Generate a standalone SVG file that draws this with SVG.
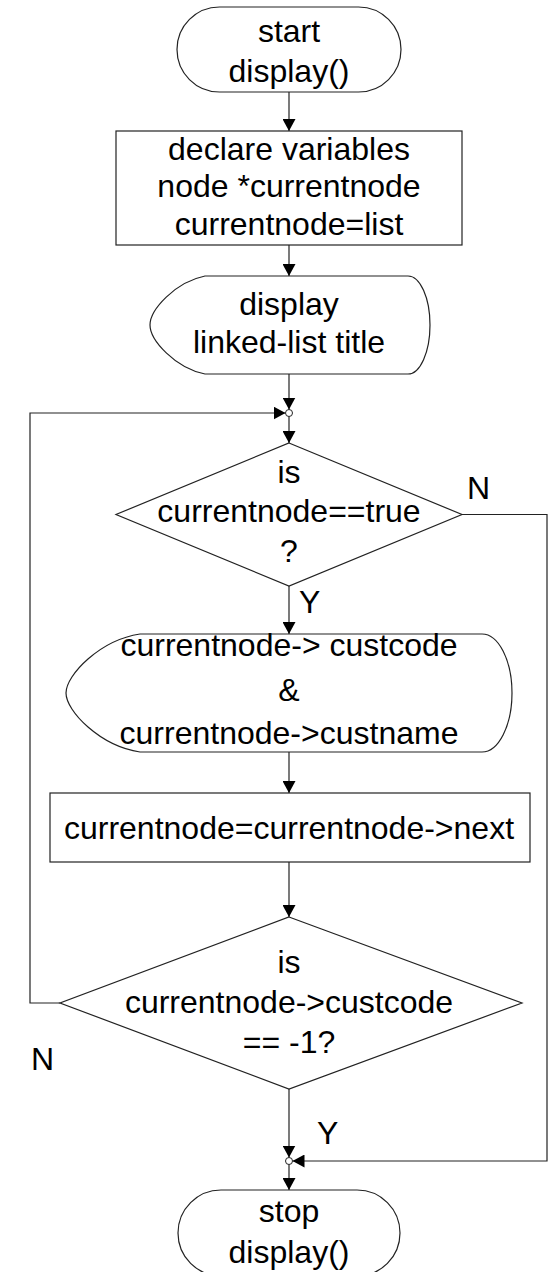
<svg xmlns="http://www.w3.org/2000/svg" width="551" height="1272" viewBox="0 0 551 1272">
<style>
.s{fill:#fff;stroke:#222;stroke-width:1.2}
.c{fill:none;stroke:#222;stroke-width:1.2}
.t{font-family:"Liberation Sans",Arial,sans-serif;font-size:32px;fill:#000;text-anchor:middle}
.l{font-family:"Liberation Sans",Arial,sans-serif;font-size:32px;fill:#000}
.j{fill:#fff;stroke:#222;stroke-width:1}
</style>
<defs>
<marker id="ah" markerUnits="userSpaceOnUse" markerWidth="13" markerHeight="13" refX="12" refY="6.5" orient="auto">
<path d="M0,0 L12,6.5 L0,13 Z" fill="#000"/>
</marker>
</defs>
<rect width="551" height="1272" fill="#fff"/>
<g id="connectors">
<path class="c" d="M289,92 V131" marker-end="url(#ah)"/>
<path class="c" d="M289,245 V276" marker-end="url(#ah)"/>
<path class="c" d="M289,374 V409.5" marker-end="url(#ah)"/>
<path class="c" d="M289,416.5 V443" marker-end="url(#ah)"/>
<path class="c" d="M60,1003 H30 V413 H285.5" marker-end="url(#ah)"/>
<path class="c" d="M462,514.5 H547 V1161 H292.5" marker-end="url(#ah)"/>
<path class="c" d="M289,586 V634" marker-end="url(#ah)"/>
<path class="c" d="M289,752 V793" marker-end="url(#ah)"/>
<path class="c" d="M289,862 V917" marker-end="url(#ah)"/>
<path class="c" d="M289,1089 V1157.5" marker-end="url(#ah)"/>
<path class="c" d="M289,1164.5 V1190" marker-end="url(#ah)"/>
<circle class="j" cx="289" cy="413" r="3.5"/>
<circle class="j" cx="289" cy="1161" r="3.5"/>
<text class="l" x="467" y="499">N</text>
<text class="l" x="299" y="613">Y</text>
<text class="l" x="31" y="1070">N</text>
<text class="l" x="317" y="1144">Y</text>
</g>
<g id="start">
<rect class="s" x="177" y="7" width="224" height="85" rx="42.5"/>
<text class="t" x="289" y="42">start</text>
<text class="t" x="289" y="82">display()</text>
</g>
<g id="declare">
<rect class="s" x="116" y="131" width="346" height="114"/>
<text class="t" x="289" y="160">declare variables</text>
<text class="t" x="289" y="197">node *currentnode</text>
<text class="t" x="289" y="235">currentnode=list</text>
</g>
<g id="display-title">
<path class="s" d="M205,276 H408 A22,49 0 0 1 408,374 H205 C175,368 150,340 150,325 C150,310 175,282 205,276 Z"/>
<text class="t" x="289" y="315">display</text>
<text class="t" x="289" y="353">linked-list title</text>
</g>
<g id="decision1">
<path class="s" d="M289,443 L462,514.5 L289,586 L116,514.5 Z"/>
<text class="t" x="289" y="483">is</text>
<text class="t" x="289" y="522">currentnode==true</text>
<text class="t" x="289" y="562">?</text>
</g>
<g id="display-node">
<path class="s" d="M140,634 H482 A30,59 0 0 1 482,752 H140 C100,746 66,711 66,693 C66,675 100,640 140,634 Z"/>
<text class="t" x="289" y="656">currentnode-&gt; custcode</text>
<text class="t" x="289" y="701">&amp;</text>
<text class="t" x="289" y="744">currentnode-&gt;custname</text>
</g>
<g id="advance">
<rect class="s" x="50" y="793" width="480" height="69"/>
<text class="t" x="289" y="839">currentnode=currentnode-&gt;next</text>
</g>
<g id="decision2">
<path class="s" d="M289,917 L522,1003 L289,1089 L60,1003 Z"/>
<text class="t" x="289" y="973">is</text>
<text class="t" x="289" y="1013">currentnode-&gt;custcode</text>
<text class="t" x="289" y="1053">== -1?</text>
</g>
<g id="stop">
<rect class="s" x="178" y="1190" width="222" height="86" rx="43"/>
<text class="t" x="289" y="1222">stop</text>
<text class="t" x="289" y="1263">display()</text>
</g>
</svg>
